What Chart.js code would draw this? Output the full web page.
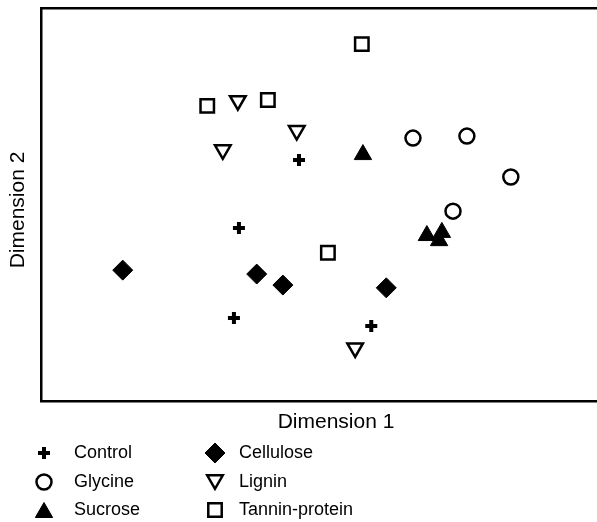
<!DOCTYPE html>
<html>
<head>
<meta charset="utf-8">
<script src="https://cdn.jsdelivr.net/npm/chart.js@4/dist/chart.umd.min.js"></script>
<style>
  body { margin: 0; background: #fff; }
</style>
</head>
<body>
<canvas id="myChart" width="597" height="522"></canvas>
<script>
// values (dimension 1, dimension 2)
var controlX   = [4.64, 3.56, 3.47, 5.94];
var controlY   = [6.13, 4.40, 2.11, 1.91];
var glycineX   = [6.69, 7.66, 8.45, 7.41];
var glycineY   = [6.69, 6.74, 5.70, 4.83];
var sucroseX   = [5.79, 6.94, 7.21, 7.16];
var sucroseY   = [6.27, 4.21, 4.29, 4.08];
var celluloseX = [1.47, 3.88, 4.35, 6.21];
var celluloseY = [3.33, 3.23, 2.95, 2.88];
var ligninX    = [3.54, 3.27, 4.60, 5.65];
var ligninY    = [7.64, 6.39, 6.88, 1.35];
var tanninX    = [2.99, 4.08, 5.77, 5.16];
var tanninY    = [7.51, 7.66, 9.08, 3.77];

var FONT = '"Liberation Sans", Arial, sans-serif';

function pts(xs, ys){
    return xs.map(function (x, i){ return {x: x, y: ys[i]} });
}

function serie(label, xs, ys, style, r, bw, filled, rot){
    return {
        label: label,
        data: pts(xs, ys),
        pointStyle: style,
        pointRadius: r,
        pointHoverRadius: r,
        pointBorderWidth: bw,
        pointRotation: rot || 0,
        pointBackgroundColor: filled ? '#000' : '#fff',
        pointBorderColor: '#000',
        showLine: false
    }
}

var datasets = [
    serie('Control', controlX, controlY, 'cross', 6, 4, true),
    serie('Glycine', glycineX, glycineY, 'circle', 7.5, 2.5, false),
    serie('Sucrose', sucroseX, sucroseY, 'triangle', 10, 1, true),
    serie('Cellulose', celluloseX, celluloseY, 'rectRot', 10, 1, true),
    serie('Lignin', ligninX, ligninY, 'triangle', 9, 2.5, false, 180),
    serie('Tannin-protein', tanninX, tanninY, 'rect', 9.5, 2.5, false)
];

// legend in two columns + axis titles
var extras = {
    id: 'extras',
    afterDraw: function (chart){
        var ctx = chart.ctx;
        ctx.save();
        ctx.fillStyle = '#000';
        ctx.textBaseline = 'middle';
        ctx.font = '21px ' + FONT;
        ctx.textAlign = 'center';
        ctx.fillText('Dimension 1', 336, 422);
        ctx.save();
        ctx.translate(18, 210);
        ctx.rotate(-Math.PI / 2);
        ctx.fillText('Dimension 2', 0, 0);
        ctx.restore();

        ctx.font = '18px ' + FONT;
        ctx.textAlign = 'left';
        var rows = [453, 482, 510];
        chart.data.datasets.forEach(function (ds, i){
            var col = i < 3 ? 0 : 1;
            var mx = col === 0 ? 44 : 215;
            var tx = col === 0 ? 74 : 239;
            var y = rows[i % 3];
            var my = y;
            // triangles: centre the box of the glyph on the row
            if (ds.pointStyle === 'triangle') my += ds.pointRotation ? -2.25 : 2.5;
            ctx.fillStyle = ds.pointBackgroundColor;
            ctx.strokeStyle = ds.pointBorderColor;
            ctx.lineWidth = ds.pointBorderWidth;
            Chart.helpers.drawPoint(ctx, {
                pointStyle: ds.pointStyle,
                radius: ds.pointRadius,
                rotation: ds.pointRotation,
                borderWidth: ds.pointBorderWidth
            }, mx, my);
            ctx.fillStyle = '#000';
            ctx.fillText(ds.label, tx, y);
        });
        ctx.restore();
    }
};

new Chart('myChart', {
    type: 'scatter',
    data: { datasets: datasets },
    options: {
        responsive: false,
        animation: false,
        layout: { autoPadding: false, padding: { top: 0, right: 0, left: 0, bottom: 81 } },
        plugins: {
            legend: { display: false },
            tooltip: { enabled: false }
        },
        scales: {
            x: {
                min: 0, max: 10,
                grid: { display: false },
                ticks: { display: false },
                border: { color: '#000', width: 2.5 },
                afterFit: function (s){ s.height = 40; }
            },
            xTop: {
                position: 'top',
                min: 0, max: 10,
                grid: { display: false },
                ticks: { display: false },
                border: { color: '#000', width: 2.5 },
                afterFit: function (s){ s.height = 8; }
            },
            y: {
                min: 0, max: 10,
                grid: { display: false },
                ticks: { display: false },
                border: { color: '#000', width: 2.5 },
                afterFit: function (s){ s.width = 41; }
            }
        }
    },
    plugins: [extras]
});
</script>
</body>
</html>
